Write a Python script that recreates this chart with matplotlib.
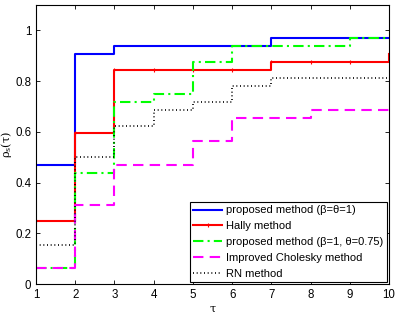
import matplotlib
matplotlib.use("Agg")
from matplotlib import pyplot as plt

plt.rcParams['font.family'] = ['Liberation Sans', 'DejaVu Sans']

tau = [1, 2, 3, 4, 5, 6, 7, 8, 9, 10]
proposed = [0.469, 0.906, 0.9375, 0.9375, 0.9375, 0.9375, 0.969, 0.969, 0.969, 0.969]
hally = [0.25, 0.594, 0.844, 0.844, 0.844, 0.844, 0.875, 0.875, 0.875, 0.906]
proposed075 = [0.0625, 0.4375, 0.719, 0.75, 0.875, 0.9375, 0.9375, 0.9375, 0.969, 0.969]
cholesky = [0.0625, 0.3125, 0.469, 0.469, 0.5625, 0.656, 0.656, 0.6875, 0.6875, 0.6875]
rn = [0.156, 0.5, 0.625, 0.6875, 0.719, 0.781, 0.8125, 0.8125, 0.8125, 0.8125]

fig = plt.figure(figsize=(3.98, 3.16), dpi=100)
ax = fig.add_axes([0.0905, 0.101, 0.887, 0.883])

ax.plot(tau, proposed, drawstyle="steps-post", color=(0, 0, 1), lw=1.5,
        label="proposed method (\u03b2=\u03b8=1)")
ax.plot(tau, hally, drawstyle="steps-post", color=(1, 0, 0), lw=1.5,
        marker="|", markersize=3, markeredgewidth=0.8, label="Hally method")
ax.plot(tau, proposed075, drawstyle="steps-post", color=(0, 1, 0), lw=1.5,
        linestyle=(0, (5, 2, 1, 2)), label="proposed method (\u03b2=1, \u03b8=0.75)")
ax.plot(tau, cholesky, drawstyle="steps-post", color=(1, 0, 1), lw=1.5,
        linestyle=(0, (5, 3)), label="Improved Cholesky method")
ax.plot(tau, rn, drawstyle="steps-post", color="k", lw=1.2,
        linestyle=(0, (0.6, 1.6)), label="RN method")

ax.set_xlim(1, 10)
ax.set_ylim(0, 1.1)
ax.set_xticks(tau)
ax.set_yticks([0, 0.2, 0.4, 0.6, 0.8, 1])
ax.set_yticklabels(["0", "0.2", "0.4", "0.6", "0.8", "1"])
ax.tick_params(direction="in", top=True, right=True, labelsize=8.3, length=3, width=0.6)
for s in ax.spines.values():
    s.set_linewidth(0.8)

ax.set_xlabel("\u03c4", family="DejaVu Serif", fontsize=8, labelpad=2)
ax.set_ylabel(r"$\mathregular{\rho_s(\tau)}$", family="DejaVu Serif", fontsize=8, labelpad=1)

leg = ax.legend(loc="lower right", fontsize=8, handlelength=2.6, borderaxespad=0.15,
                fancybox=False, framealpha=1, edgecolor="k", labelspacing=0.52,
                handletextpad=0.35, borderpad=0.35)
leg.get_frame().set_linewidth(0.8)

fig.savefig("out.png", dpi=100)
